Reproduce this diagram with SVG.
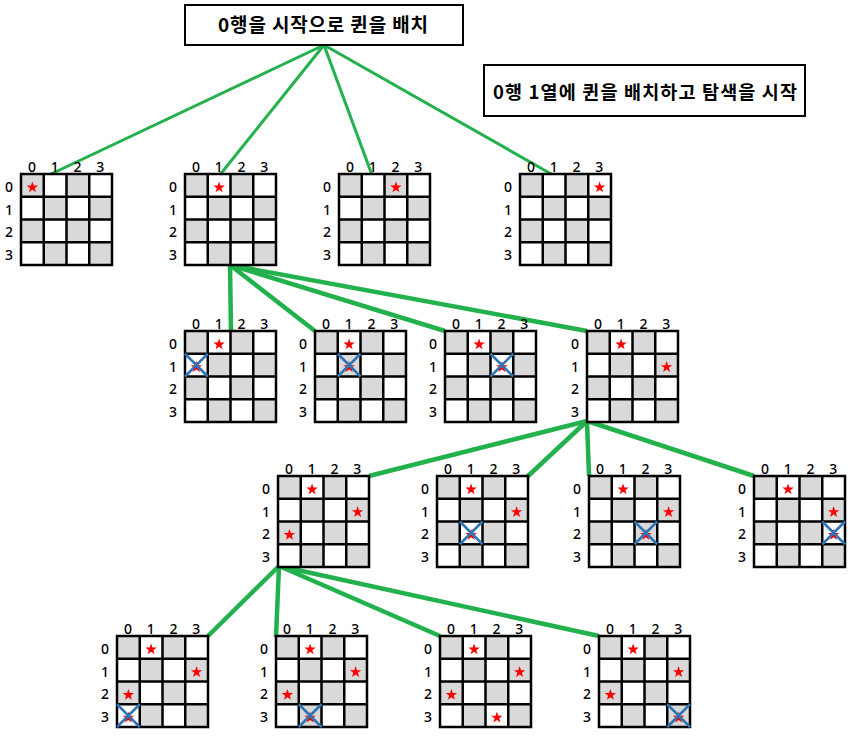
<svg xmlns="http://www.w3.org/2000/svg" xmlns:xlink="http://www.w3.org/1999/xlink" width="854" height="739" viewBox="0 0 854 739">
<style>
.box{fill:#fff;stroke:#000;stroke-width:2}
.title{font-family:"Noto Sans CJK KR","Noto Sans",sans-serif;font-weight:bold;fill:#000}
.lbl{font-family:"Noto Sans","Liberation Sans",sans-serif;font-weight:500;font-size:14px;fill:#000;text-anchor:middle}
.conn line{stroke:#22B14C;stroke-linecap:butt}
.c1{stroke-width:3}
.c2{stroke-width:4.5}
</style>
<defs>
<g id="grid">
<rect width="91" height="91" fill="#fff"/>
<g fill="#D9D9D9">
<rect x="0" y="0" width="22.75" height="22.75"/>
<rect x="45.5" y="0" width="22.75" height="22.75"/>
<rect x="22.75" y="22.75" width="22.75" height="22.75"/>
<rect x="68.25" y="22.75" width="22.75" height="22.75"/>
<rect x="0" y="45.5" width="22.75" height="22.75"/>
<rect x="45.5" y="45.5" width="22.75" height="22.75"/>
<rect x="22.75" y="68.25" width="22.75" height="22.75"/>
<rect x="68.25" y="68.25" width="22.75" height="22.75"/>
</g>
<path d="M0 0H91V91H0Z M22.75 0V91 M45.5 0V91 M68.25 0V91 M0 22.75H91 M0 45.5H91 M0 68.25H91" stroke="#000" stroke-width="2.5" fill="none"/>
</g>
<polygon id="star" fill="#FF0000" points="0,-6 1.41,-1.95 5.71,-1.85 2.28,0.75 3.53,4.85 0,2.4 -3.53,4.85 -2.28,0.75 -5.71,-1.85 -1.41,-1.95"/>
<path id="xx" d="M0 0L22.75 22.75M22.75 0L0 22.75" stroke="#2E75B6" stroke-width="2.5" fill="none"/>
<g id="labels">
<text class="lbl" x="11 33.8 56.5 79.2" y="-2.3">0123</text>
<text class="lbl" x="-12 -12 -12 -12" y="17.9 40.6 63.4 86.1">0123</text>
</g>
</defs>

<rect width="854" height="739" fill="#fff"/>

<g id="connectors" class="conn">
<line class="c1" x1="324" y1="45" x2="49" y2="175"/>
<line class="c1" x1="324" y1="45" x2="219" y2="176"/>
<line class="c1" x1="324" y1="45" x2="372" y2="175"/>
<line class="c1" x1="324" y1="45" x2="553" y2="175"/>
<line class="c2" x1="230" y1="265" x2="231" y2="331"/>
<line class="c2" x1="230" y1="265" x2="315" y2="331"/>
<line class="c2" x1="230" y1="265" x2="445" y2="331"/>
<line class="c2" x1="230" y1="265" x2="587" y2="331"/>
<line class="c2" x1="587" y1="421" x2="369" y2="476"/>
<line class="c2" x1="587" y1="421" x2="527" y2="477"/>
<line class="c2" x1="587" y1="421" x2="589" y2="476"/>
<line class="c2" x1="587" y1="421" x2="754" y2="476"/>
<line class="c2" x1="279" y1="566" x2="208" y2="636"/>
<line class="c2" x1="279" y1="566" x2="276" y2="637"/>
<line class="c2" x1="279" y1="566" x2="440" y2="636"/>
<line class="c2" x1="279" y1="566" x2="599" y2="636"/>
</g>

<g id="root">
<rect class="box" x="185" y="5" width="278" height="40"/>
<text class="title" x="218" y="32" font-size="19" textLength="210">0행을 시작으로 퀸을 배치</text>
</g>
<g id="note">
<rect class="box" x="484" y="65" width="321" height="51"/>
<text class="title" x="493" y="98.5" font-size="18.5" textLength="304">0행 1열에 퀸을 배치하고 탐색을 시작</text>
</g>

<g id="b1" transform="translate(21,174)"><use href="#grid"/><use href="#labels"/>
<use href="#star" x="11.4" y="13.4"/></g>
<g id="b2" transform="translate(185,174)"><use href="#grid"/><use href="#labels"/>
<use href="#star" x="34.1" y="13.4"/></g>
<g id="b3" transform="translate(339,174)"><use href="#grid"/><use href="#labels"/>
<use href="#star" x="56.9" y="13.4"/></g>
<g id="b4" transform="translate(520,174)"><use href="#grid"/><use href="#labels"/>
<use href="#star" x="79.6" y="13.4"/></g>

<g id="b2a" transform="translate(185,331)"><use href="#grid"/><use href="#labels"/>
<use href="#star" x="34.1" y="13.4"/><use href="#star" x="11.4" y="36.1"/><use href="#xx" x="0" y="22.75"/></g>
<g id="b2b" transform="translate(315,331)"><use href="#grid"/><use href="#labels"/>
<use href="#star" x="34.1" y="13.4"/><use href="#star" x="34.1" y="36.1"/><use href="#xx" x="22.75" y="22.75"/></g>
<g id="b2c" transform="translate(445,331)"><use href="#grid"/><use href="#labels"/>
<use href="#star" x="34.1" y="13.4"/><use href="#star" x="56.9" y="36.1"/><use href="#xx" x="45.5" y="22.75"/></g>
<g id="b2d" transform="translate(587,331)"><use href="#grid"/><use href="#labels"/>
<use href="#star" x="34.1" y="13.4"/><use href="#star" x="79.6" y="36.1"/></g>

<g id="b3a" transform="translate(278,476)"><use href="#grid"/><use href="#labels"/>
<use href="#star" x="34.1" y="13.4"/><use href="#star" x="79.6" y="36.1"/><use href="#star" x="11.4" y="58.9"/></g>
<g id="b3b" transform="translate(437,476)"><use href="#grid"/><use href="#labels"/>
<use href="#star" x="34.1" y="13.4"/><use href="#star" x="79.6" y="36.1"/><use href="#star" x="34.1" y="58.9"/><use href="#xx" x="22.75" y="45.5"/></g>
<g id="b3c" transform="translate(589,476)"><use href="#grid"/><use href="#labels"/>
<use href="#star" x="34.1" y="13.4"/><use href="#star" x="79.6" y="36.1"/><use href="#star" x="56.9" y="58.9"/><use href="#xx" x="45.5" y="45.5"/></g>
<g id="b3d" transform="translate(754,476)"><use href="#grid"/><use href="#labels"/>
<use href="#star" x="34.1" y="13.4"/><use href="#star" x="79.6" y="36.1"/><use href="#star" x="79.6" y="58.9"/><use href="#xx" x="68.25" y="45.5"/></g>

<g id="b4a" transform="translate(117,636)"><use href="#grid"/><use href="#labels"/>
<use href="#star" x="34.1" y="13.4"/><use href="#star" x="79.6" y="36.1"/><use href="#star" x="11.4" y="58.9"/><use href="#star" x="11.4" y="81.6"/><use href="#xx" x="0" y="68.25"/></g>
<g id="b4b" transform="translate(276,636)"><use href="#grid"/><use href="#labels"/>
<use href="#star" x="34.1" y="13.4"/><use href="#star" x="79.6" y="36.1"/><use href="#star" x="11.4" y="58.9"/><use href="#star" x="34.1" y="81.6"/><use href="#xx" x="22.75" y="68.25"/></g>
<g id="b4c" transform="translate(440,636)"><use href="#grid"/><use href="#labels"/>
<use href="#star" x="34.1" y="13.4"/><use href="#star" x="79.6" y="36.1"/><use href="#star" x="11.4" y="58.9"/><use href="#star" x="56.9" y="81.6"/></g>
<g id="b4d" transform="translate(599,636)"><use href="#grid"/><use href="#labels"/>
<use href="#star" x="34.1" y="13.4"/><use href="#star" x="79.6" y="36.1"/><use href="#star" x="11.4" y="58.9"/><use href="#star" x="79.6" y="81.6"/><use href="#xx" x="68.25" y="68.25"/></g>
</svg>
